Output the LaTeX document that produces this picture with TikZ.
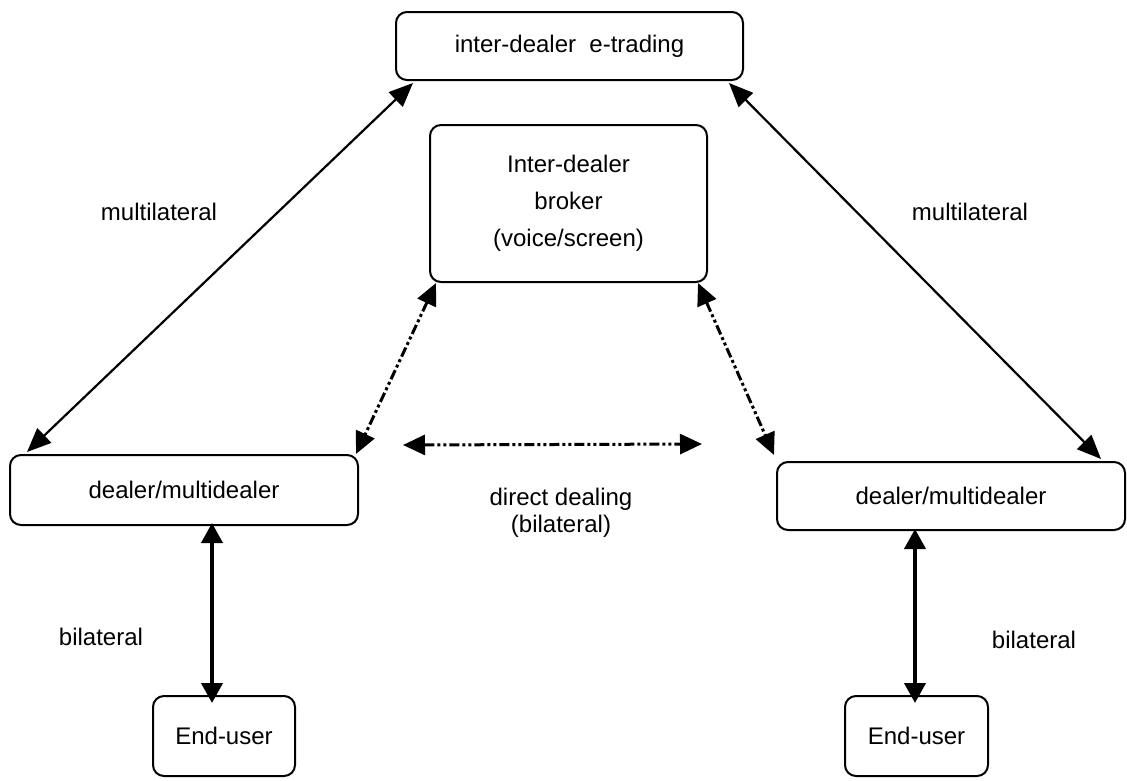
\documentclass[tikz,border=0pt]{standalone}
\usepackage{fontspec}
\setmainfont{Liberation Sans}
\usepackage{tikz}
\usetikzlibrary{arrows.meta}

\begin{document}
\begin{tikzpicture}[x=1pt,y=-1pt,
    box/.style={draw, line width=2pt, rounded corners=11pt, align=center, inner sep=0pt,
    font=\fontsize{24}{37}\selectfont},
    lbl/.style={font=\fontsize{24}{27}\selectfont, inner sep=0pt},
    multi/.style={line width=2.2pt, {Triangle[length=24pt,width=20pt]}-{Triangle[length=24pt,width=20pt]}},
    bil/.style={line width=4pt, {Triangle[length=20pt,width=21pt]}-{Triangle[length=20pt,width=21pt]}},
    direct/.style={line width=3pt, dash pattern=on 10pt off 3pt on 3pt off 3pt on 3pt off 3pt,
    {Triangle[length=22pt,width=20pt]}-{Triangle[length=22pt,width=20pt]}}]

  \useasboundingbox (0,0) rectangle (1127,780);

  \node[box,minimum width=347pt,minimum height=68pt] (T) at (569.5,46) {inter-dealer\ \ e-trading};
  \node[box,minimum width=277pt,minimum height=157pt] (B) at (568.5,203.5) {Inter-dealer\\broker\\(voice/screen)};
  \node[box,minimum width=348pt,minimum height=70pt] (L) at (184,490) {dealer/multidealer};
  \node[box,minimum width=348pt,minimum height=68pt] (R) at (951,496) {dealer/multidealer};
  \node[box,minimum width=142pt,minimum height=80pt] (LE) at (224,736) {End-user};
  \node[box,minimum width=143pt,minimum height=80pt] (RE) at (916.5,736) {End-user};

  \node[lbl] (ML) at (159,212) {multilateral};
  \node[lbl] (MR) at (970,212) {multilateral};
  \node[lbl,align=center] (DD) at (561,513) {direct dealing\\(bilateral)};
  \node[lbl] (BL) at (101,637) {bilateral};
  \node[lbl] (BR) at (1034,640) {bilateral};

  \coordinate (D1) at (403,445);
  \coordinate (D2) at (702,444);

  \draw[multi] ([xshift=18pt,yshift=-2pt]T.south west) -- ([xshift=18pt,yshift=2pt]L.north west);
  \draw[multi] ([xshift=-15pt,yshift=-2pt]T.south east) -- ([xshift=-25pt,yshift=2pt]R.north east);

  \draw[direct] ([xshift=7pt]B.south west) -- ([xshift=-3pt]L.north east);
  \draw[direct] ([xshift=-10pt]B.south east) -- ([xshift=-2pt,yshift=6pt]R.north west);
  \draw[direct] (D1) -- (D2);

  \draw[bil] ([xshift=28pt,yshift=3pt]L.south) -- ([xshift=-12pt,yshift=-8pt]LE.north);
  \draw[bil] ([xshift=-36pt,yshift=2pt]R.south) -- ([xshift=-1.5pt,yshift=-8pt]RE.north);

\end{tikzpicture}
\end{document}
